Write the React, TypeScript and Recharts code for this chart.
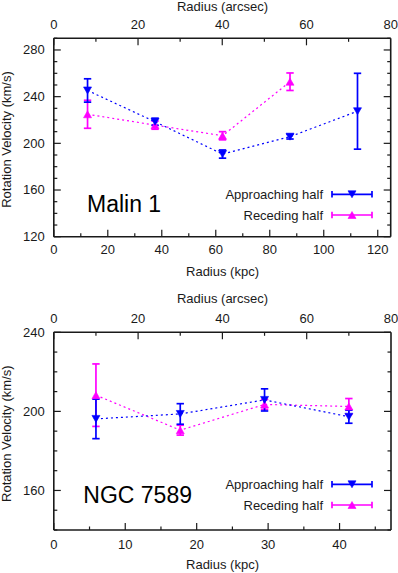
import React from 'react';
import { ComposedChart, Line, XAxis, YAxis, ErrorBar, Customized } from 'recharts';

const FONT = '"Liberation Sans", Arial, Helvetica, sans-serif';
const BLUE = '#0000ff';
const MAGENTA = '#ff00ff';
const INK = '#1a1a1a';
const CHART_W = 398;

// ---------- Malin 1 ----------
const malinRadiusKpc = [12.5, 37.5, 62.5, 87.5, 112.5];
const malinApproach = [245.3, 218.5, 190.8, 205.7, 227.5];
const malinApproachErr = [10, 3, 3.5, 2, 32.5];
const malinRecedeRadius = [12.5, 37.5, 62.5, 87.5];
const malinRecede = [224.9, 215.6, 206.5, 252.8];
const malinRecedeErr = [12, 3.5, 3.5, 7.5];
const malinKpcTicks = [0, 10, 20, 30, 40, 50, 60, 70, 80, 90, 100, 110, 120];
const malinKpcLabels = [0, 20, 40, 60, 80, 100, 120];
const malinVelTicks = [120, 130, 140, 150, 160, 170, 180, 190, 200, 210, 220, 230, 240, 250, 260, 270, 280, 290];
const malinVelLabels = [120, 160, 200, 240, 280];

// ---------- NGC 7589 ----------
const ngcRadiusKpc = [5.9, 17.7, 29.5, 41.3];
const ngcApproach = [196.2, 198.7, 205.8, 197.3];
const ngcApproachErr = [10, 5.2, 5.6, 3.3];
const ngcRecede = [208.2, 190.5, 203.5, 202.5];
const ngcRecedeErr = [15.8, 2.5, 2.5, 4];
const ngcKpcTicks = [0, 5, 10, 15, 20, 25, 30, 35, 40, 45];
const ngcKpcLabels = [0, 10, 20, 30, 40];
const ngcVelTicks = [140, 150, 160, 170, 180, 190, 200, 210, 220, 230, 240];
const ngcVelLabels = [160, 200, 240];

// ---------- shared arcsec axis ----------
const arcsecDomain: [number, number] = [0, 80];
const arcsecTicks = [0, 10, 20, 30, 40, 50, 60, 70];
const arcsecLabels = [0, 20, 40, 60, 80];
const arcsecEdgeLabel = arcsecDomain[1]; // label on the right frame edge (Recharts drops this edge tick)

const AX = 1; // axis box size (must be > 0 for Recharts to draw the axis)
const noText = () => '';

const rows = (r: number[], v: number[], e: number[]) =>
  r.map((x, i) => ({ r: x, v: v[i], e: e[i] }));

const triPoints = (cx: number, cy: number, down: boolean) => {
  const w = 4;
  const h = 3.5;
  return down
    ? `${cx - w},${cy - h} ${cx + w},${cy - h} ${cx},${cy + h}`
    : `${cx - w},${cy + h} ${cx + w},${cy + h} ${cx},${cy - h}`;
};

const makeDot = (color: string, down: boolean) => (props: any) => {
  const { cx, cy, index } = props;
  if (cx == null || cy == null || isNaN(cx) || isNaN(cy)) return <g key={`d${index}`} />;
  return <polygon key={`d${index}`} points={triPoints(cx, cy, down)} fill={color} stroke={color} strokeWidth={0.6} />;
};

type Orient = 'bottom' | 'top' | 'left' | 'right';

const makeTick = (orient: Orient, labels: number[], labelOffset: number) => (props: any) => {
  const { x, y, payload, index } = props;
  const v = payload.value;
  const major = labels.some((l) => Math.abs(l - v) < 1e-6);
  const len = major ? 7 : 3.5;
  let ln: React.ReactNode = null;
  let tx: React.ReactNode = null;
  const txtProps = { fontFamily: FONT, fontSize: 13, fill: INK };
  if (orient === 'bottom') {
    ln = <line x1={x} y1={y} x2={x} y2={y - len} stroke={INK} strokeWidth={1.2} />;
    if (major) tx = <text x={x} y={y + labelOffset} textAnchor="middle" {...txtProps}>{v}</text>;
  } else if (orient === 'top') {
    ln = <line x1={x} y1={y} x2={x} y2={y + len} stroke={INK} strokeWidth={1.2} />;
    if (major) tx = <text x={x} y={y + labelOffset} textAnchor="middle" {...txtProps}>{v}</text>;
  } else if (orient === 'left') {
    ln = <line x1={x} y1={y} x2={x + len} y2={y} stroke={INK} strokeWidth={1.2} />;
    if (major) tx = <text x={x - 9} y={y + 4.3} textAnchor="end" {...txtProps}>{v}</text>;
  } else {
    ln = <line x1={x} y1={y} x2={x - len} y2={y} stroke={INK} strokeWidth={1.2} />;
  }
  return (
    <g key={`t${orient}${index}`}>
      {ln}
      {tx}
    </g>
  );
};

const LegendSample = ({ y, color, down, label }: { y: number; color: string; down: boolean; label: string }) => (
  <g>
    <text x={323} y={y + 4.6} textAnchor="end" fontFamily={FONT} fontSize={13} fill={INK}>{label}</text>
    <line x1={332} y1={y} x2={372} y2={y} stroke={color} strokeWidth={1.7} />
    <line x1={332} y1={y - 3.3} x2={332} y2={y + 3.3} stroke={color} strokeWidth={1.7} />
    <line x1={372} y1={y - 3.3} x2={372} y2={y + 3.3} stroke={color} strokeWidth={1.7} />
    <polygon points={triPoints(352, y, down)} fill={color} stroke={color} strokeWidth={0.6} />
  </g>
);

type PanelProps = {
  name: string;
  height: number;
  plot: { top: number; right: number; bottom: number; left: number };
  kpcDomain: [number, number];
  kpcTicks: number[];
  kpcLabels: number[];
  velDomain: [number, number];
  velTicks: number[];
  velLabels: number[];
  approach: { r: number; v: number; e: number }[];
  recede: { r: number; v: number; e: number }[];
  bottomLabelOffset: number;
  arcsecTitleY: number;
  kpcTitleY: number;
  yTitleCenter: number;
  legendY: [number, number];
  nameX: number;
  nameY: number;
};

const Panel = (p: PanelProps) => {
  const axisLine = { stroke: INK, strokeWidth: 1.6 };
  const margin = {
    top: p.plot.top - AX,
    right: p.plot.right - AX,
    bottom: p.plot.bottom - AX,
    left: p.plot.left - AX,
  };
  // invisible helper series spanning the secondary (arcsec / right-hand) axes so that they get scales and ticks
  const frameRows = [
    { a: arcsecDomain[0], w: p.velDomain[0] },
    { a: arcsecDomain[1], w: p.velDomain[1] },
  ];
  const plotRight = CHART_W - p.plot.right;
  return (
    <ComposedChart width={CHART_W} height={p.height} margin={margin}>
      <XAxis
        xAxisId="kpc"
        dataKey="r"
        type="number"
        orientation="bottom"
        domain={p.kpcDomain}
        allowDataOverflow
        ticks={p.kpcTicks}
        interval={0}
        height={AX}
        tickSize={0}
        tickMargin={0}
        tickLine={false}
        tickFormatter={noText}
        axisLine={axisLine}
        tick={makeTick('bottom', p.kpcLabels, p.bottomLabelOffset)}
      />
      <XAxis
        xAxisId="arcsec"
        dataKey="a"
        type="number"
        orientation="top"
        domain={arcsecDomain}
        allowDataOverflow
        ticks={arcsecTicks}
        interval={0}
        height={AX}
        tickSize={0}
        tickMargin={0}
        tickLine={false}
        tickFormatter={noText}
        axisLine={axisLine}
        tick={makeTick('top', arcsecLabels, -9)}
      />
      <YAxis
        yAxisId="vel"
        type="number"
        orientation="left"
        domain={p.velDomain}
        allowDataOverflow
        ticks={p.velTicks}
        interval={0}
        width={AX}
        tickSize={0}
        tickMargin={0}
        tickLine={false}
        tickFormatter={noText}
        axisLine={axisLine}
        tick={makeTick('left', p.velLabels, 0)}
      />
      <YAxis
        yAxisId="velR"
        type="number"
        orientation="right"
        domain={p.velDomain}
        allowDataOverflow
        ticks={p.velTicks}
        interval={0}
        width={AX}
        tickSize={0}
        tickMargin={0}
        tickLine={false}
        tickFormatter={noText}
        axisLine={axisLine}
        tick={makeTick('right', p.velLabels, 0)}
      />
      <Line
        xAxisId="arcsec"
        yAxisId="velR"
        data={frameRows}
        dataKey="w"
        stroke="none"
        strokeOpacity={0}
        dot={false}
        activeDot={false}
        legendType="none"
        isAnimationActive={false}
      />
      <Line
        xAxisId="kpc"
        yAxisId="vel"
        data={p.recede}
        dataKey="v"
        stroke={MAGENTA}
        strokeWidth={1.2}
        strokeDasharray="2 3"
        dot={makeDot(MAGENTA, false)}
        activeDot={false}
        isAnimationActive={false}
      >
        <ErrorBar dataKey="e" direction="y" width={3.7} strokeWidth={1.7} stroke={MAGENTA} isAnimationActive={false} />
      </Line>
      <Line
        xAxisId="kpc"
        yAxisId="vel"
        data={p.approach}
        dataKey="v"
        stroke={BLUE}
        strokeWidth={1.2}
        strokeDasharray="2 3"
        dot={makeDot(BLUE, true)}
        activeDot={false}
        isAnimationActive={false}
      >
        <ErrorBar dataKey="e" direction="y" width={3.7} strokeWidth={1.7} stroke={BLUE} isAnimationActive={false} />
      </Line>
      <Customized
        component={() => (
          <g>
            <text x={plotRight} y={p.plot.top - 9} textAnchor="middle" fontFamily={FONT} fontSize={13} fill={INK}>
              {arcsecEdgeLabel}
            </text>
            <text x={222.5} y={p.arcsecTitleY} textAnchor="middle" fontFamily={FONT} fontSize={13} fill={INK}>Radius (arcsec)</text>
            <text x={222.5} y={p.kpcTitleY} textAnchor="middle" fontFamily={FONT} fontSize={13} fill={INK}>Radius (kpc)</text>
            <text
              transform={`rotate(-90)`}
              x={-p.yTitleCenter}
              y={10.5}
              textAnchor="middle"
              fontFamily={FONT}
              fontSize={13}
              fill={INK}
            >
              Rotation Velocity (km/s)
            </text>
            <text x={p.nameX} y={p.nameY} fontFamily={FONT} fontSize={23} fill="#000">{p.name}</text>
            <LegendSample y={p.legendY[0]} color={BLUE} down label="Approaching half" />
            <LegendSample y={p.legendY[1]} color={MAGENTA} down={false} label="Receding half" />
          </g>
        )}
      />
    </ComposedChart>
  );
};

export default function App() {
  return (
    <div style={{ position: 'absolute', left: 0, top: 0, width: 398, height: 573, background: '#fff' }}>
      <div style={{ position: 'absolute', left: 0, top: 0 }}>
        <Panel
          name="Malin 1"
          height={285}
          plot={{ top: 38.3, right: 7.3, bottom: 48.3, left: 53.8 }}
          kpcDomain={[0, 124.8]}
          kpcTicks={malinKpcTicks}
          kpcLabels={malinKpcLabels}
          velDomain={[120, 290]}
          velTicks={malinVelTicks}
          velLabels={malinVelLabels}
          approach={rows(malinRadiusKpc, malinApproach, malinApproachErr)}
          recede={rows(malinRecedeRadius, malinRecede, malinRecedeErr)}
          bottomLabelOffset={17}
          arcsecTitleY={10.5}
          kpcTitleY={275.7}
          yTitleCenter={139.5}
          legendY={[194.3, 215]}
          nameX={87}
          nameY={211.7}
        />
      </div>
      <div style={{ position: 'absolute', left: 0, top: 285 }}>
        <Panel
          name="NGC 7589"
          height={288}
          plot={{ top: 47.3, right: 7, bottom: 43, left: 53.8 }}
          kpcDomain={[0, 47.2]}
          kpcTicks={ngcKpcTicks}
          kpcLabels={ngcKpcLabels}
          velDomain={[140, 240]}
          velTicks={ngcVelTicks}
          velLabels={ngcVelLabels}
          approach={rows(ngcRadiusKpc, ngcApproach, ngcApproachErr)}
          recede={rows(ngcRadiusKpc, ngcRecede, ngcRecedeErr)}
          bottomLabelOffset={19.3}
          arcsecTitleY={18.3}
          kpcTitleY={284}
          yTitleCenter={148.7}
          legendY={[199.3, 220]}
          nameX={83.3}
          nameY={217.7}
        />
      </div>
    </div>
  );
}
